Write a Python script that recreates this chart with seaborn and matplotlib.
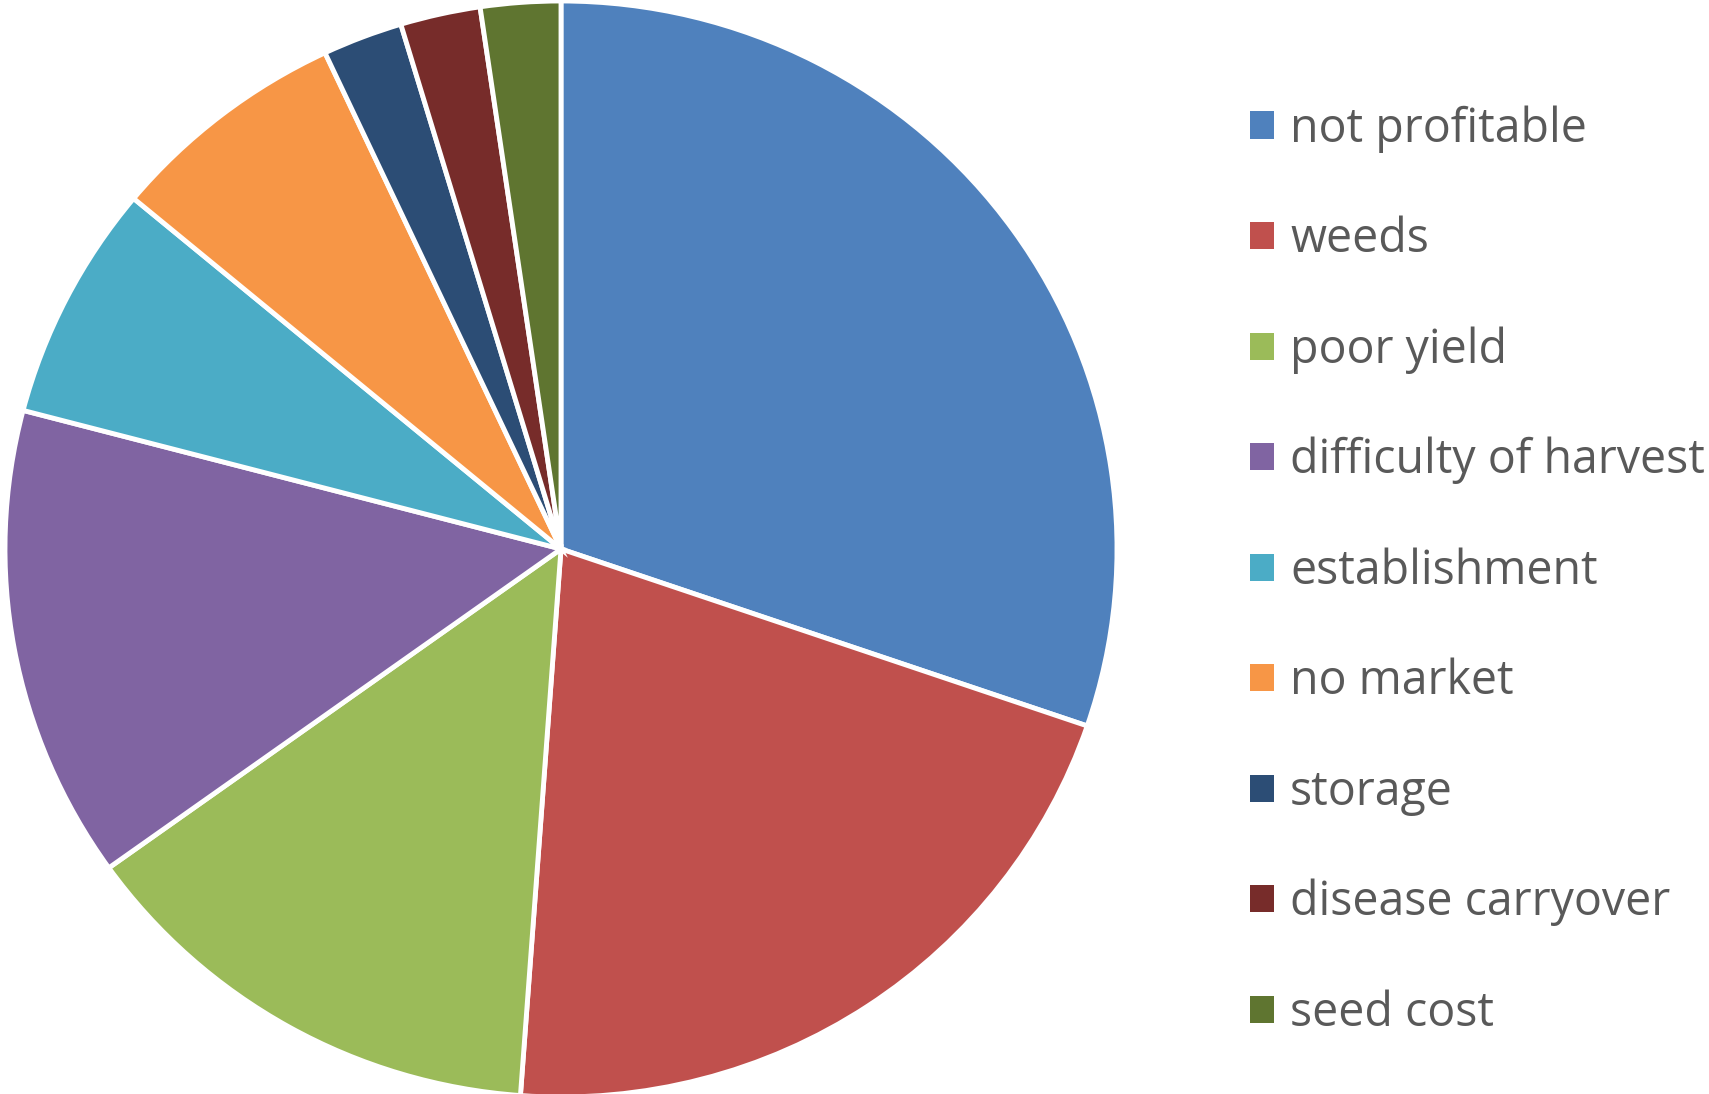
import matplotlib
matplotlib.use("Agg")
import matplotlib.pyplot as plt
import seaborn as sns

categories = ["not profitable", "weeds", "poor yield", "difficulty of harvest",
              "establishment", "no market", "storage", "disease carryover", "seed cost"]
counts = [13, 9, 6, 6, 3, 3, 1, 1, 1]
colors = ["#4F81BD", "#C0504D", "#9BBB59", "#8064A2", "#4BACC6",
          "#F79646", "#2C4D75", "#772C2A", "#5F7530"]

sns.set_theme(style="white")
plt.rcParams['font.family'] = ['Open Sans', 'DejaVu Sans']

W, H = 1709, 1094
fig = plt.figure(figsize=(W / 100, H / 100), dpi=100)
cx, cy, rx, ry = 561, 549, 556, 548
ax = fig.add_axes([(cx - rx) / W, (H - cy - ry) / H, 2 * rx / W, 2 * ry / H])
wedges, _ = ax.pie(counts, colors=sns.color_palette(colors), startangle=90, counterclock=False,
                   radius=1, wedgeprops=dict(edgecolor="white", linewidth=3.5))
ax.set_xlim(-1, 1)
ax.set_ylim(-1, 1)
ax.set_aspect("auto")
ax.axis("off")

leg = fig.legend(wedges, categories, loc="upper left",
                 bbox_to_anchor=(1250 / W, 1 - 105 / H), frameon=False,
                 fontsize=33.5, labelcolor="#595959", handlelength=0.52, handleheight=0.52,
                 handletextpad=0.34, labelspacing=1.355, borderpad=0, borderaxespad=0)
for h in leg.legend_handles:
    h.set_linewidth(0)

fig.savefig("out.png", dpi=100)
